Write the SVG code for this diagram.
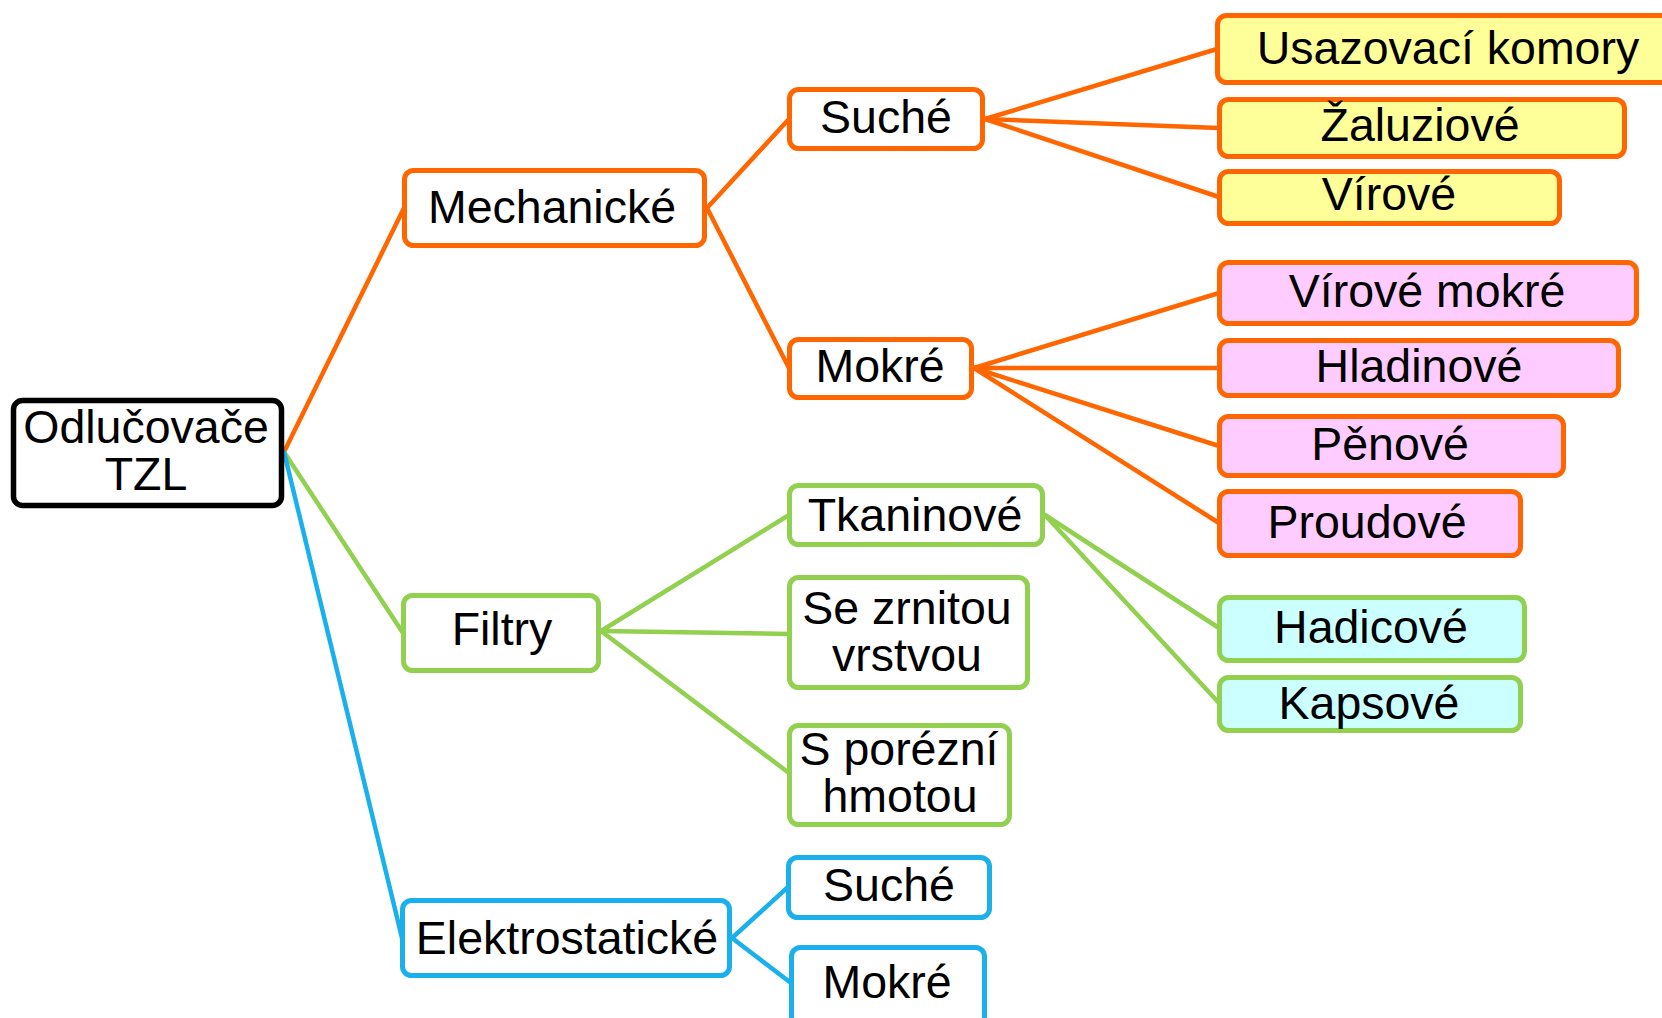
<svg xmlns="http://www.w3.org/2000/svg" width="1662" height="1018" viewBox="0 0 1662 1018">
<style>
  .box { stroke-width: 5; rx: 9; ry: 9; }
  .root { fill: #FFFFFF; stroke: #000000; stroke-width: 5.5; }
  .o { stroke: #FF6600; }
  .g { stroke: #92D050; }
  .b { stroke: #1AB0EC; }
  .white { fill: #FFFFFF; }
  .yellow { fill: #FFFF99; }
  .pink { fill: #FFCCFF; }
  .cyan { fill: #CCFFFF; }
  text { font-family: "Liberation Sans", Arial, sans-serif; font-size: 46.5px; fill: #000000; text-anchor: middle; }
  .conn line { stroke-width: 4.5; stroke-linecap: round; }
</style>
<rect width="1662" height="1018" fill="#FFFFFF"/>
<g id="connectors" class="conn">
  <line class="o" x1="284" y1="452" x2="404" y2="208"/>
  <line class="o" x1="707" y1="208" x2="789" y2="119"/>
  <line class="o" x1="707" y1="208" x2="789" y2="368"/>
  <line class="o" x1="985" y1="119" x2="1217" y2="49"/>
  <line class="o" x1="985" y1="119" x2="1219" y2="128"/>
  <line class="o" x1="985" y1="119" x2="1219" y2="197"/>
  <line class="o" x1="974" y1="368" x2="1219" y2="293"/>
  <line class="o" x1="974" y1="368" x2="1219" y2="368"/>
  <line class="o" x1="974" y1="368" x2="1219" y2="446"/>
  <line class="o" x1="974" y1="368" x2="1219" y2="523"/>
  <line class="g" x1="284" y1="452" x2="403" y2="633"/>
  <line class="g" x1="601" y1="631" x2="789" y2="515"/>
  <line class="g" x1="601" y1="631" x2="789" y2="634"/>
  <line class="g" x1="601" y1="631" x2="789" y2="773"/>
  <line class="g" x1="1045" y1="515" x2="1219" y2="628"/>
  <line class="g" x1="1045" y1="515" x2="1219" y2="703"/>
  <line class="b" x1="284" y1="452" x2="402" y2="938"/>
  <line class="b" x1="732" y1="938" x2="788" y2="887"/>
  <line class="b" x1="732" y1="938" x2="791" y2="983"/>
</g>
<g id="node-root">
  <rect class="box root" x="13.5" y="400.5" width="268" height="105" rx="12" ry="12"/>
  <text x="146" y="443">Odlučovače</text>
  <text x="146" y="490">TZL</text>
</g>
<g id="node-mechanicke">
  <rect class="box o white" x="404.5" y="170.5" width="300" height="75"/>
  <text x="552" y="223">Mechanické</text>
</g>
<g id="node-suche">
  <rect class="box o white" x="789.5" y="89.5" width="193" height="59"/>
  <text x="886" y="133">Suché</text>
</g>
<g id="node-mokre">
  <rect class="box o white" x="789.5" y="339.5" width="182" height="58"/>
  <text x="880" y="382">Mokré</text>
</g>
<g id="node-usazovaci">
  <rect class="box o yellow" x="1217.5" y="15.5" width="470" height="67"/>
  <text x="1448" y="64">Usazovací komory</text>
</g>
<g id="node-zaluziove">
  <rect class="box o yellow" x="1219.5" y="99.5" width="405" height="57"/>
  <text x="1420" y="141">Žaluziové</text>
</g>
<g id="node-virove">
  <rect class="box o yellow" x="1219.5" y="171.5" width="340" height="52"/>
  <text x="1389" y="210">Vírové</text>
</g>
<g id="node-virove-mokre">
  <rect class="box o pink" x="1219.5" y="262.5" width="417" height="61"/>
  <text x="1427" y="307">Vírové mokré</text>
</g>
<g id="node-hladinove">
  <rect class="box o pink" x="1219.5" y="340.5" width="399" height="55"/>
  <text x="1419" y="382">Hladinové</text>
</g>
<g id="node-penove">
  <rect class="box o pink" x="1219.5" y="416.5" width="344" height="59"/>
  <text x="1390" y="460">Pěnové</text>
</g>
<g id="node-proudove">
  <rect class="box o pink" x="1219.5" y="491.5" width="301" height="64"/>
  <text x="1367" y="538">Proudové</text>
</g>
<g id="node-filtry">
  <rect class="box g white" x="403.5" y="595.5" width="195" height="75"/>
  <text x="502" y="645">Filtry</text>
</g>
<g id="node-tkaninove">
  <rect class="box g white" x="789.5" y="485.5" width="253" height="59"/>
  <text x="915" y="531">Tkaninové</text>
</g>
<g id="node-se-zrnitou">
  <rect class="box g white" x="789.5" y="577.5" width="238" height="110"/>
  <text x="907" y="624">Se zrnitou</text>
  <text x="907" y="671">vrstvou</text>
</g>
<g id="node-s-porezni">
  <rect class="box g white" x="789.5" y="725.5" width="220" height="99"/>
  <text x="899" y="765">S porézní</text>
  <text x="900" y="812">hmotou</text>
</g>
<g id="node-hadicove">
  <rect class="box g cyan" x="1219.5" y="597.5" width="305" height="63"/>
  <text x="1371" y="643">Hadicové</text>
</g>
<g id="node-kapsove">
  <rect class="box g cyan" x="1219.5" y="677.5" width="301" height="53"/>
  <text x="1369" y="719">Kapsové</text>
</g>
<g id="node-elektrostaticke">
  <rect class="box b white" x="402.5" y="900.5" width="327" height="75"/>
  <text x="567" y="954">Elektrostatické</text>
</g>
<g id="node-suche-e">
  <rect class="box b white" x="788.5" y="857.5" width="201" height="60"/>
  <text x="889" y="901">Suché</text>
</g>
<g id="node-mokre-e">
  <rect class="box b white" x="791.5" y="947.5" width="193" height="78"/>
  <text x="887" y="998">Mokré</text>
</g>
</svg>
